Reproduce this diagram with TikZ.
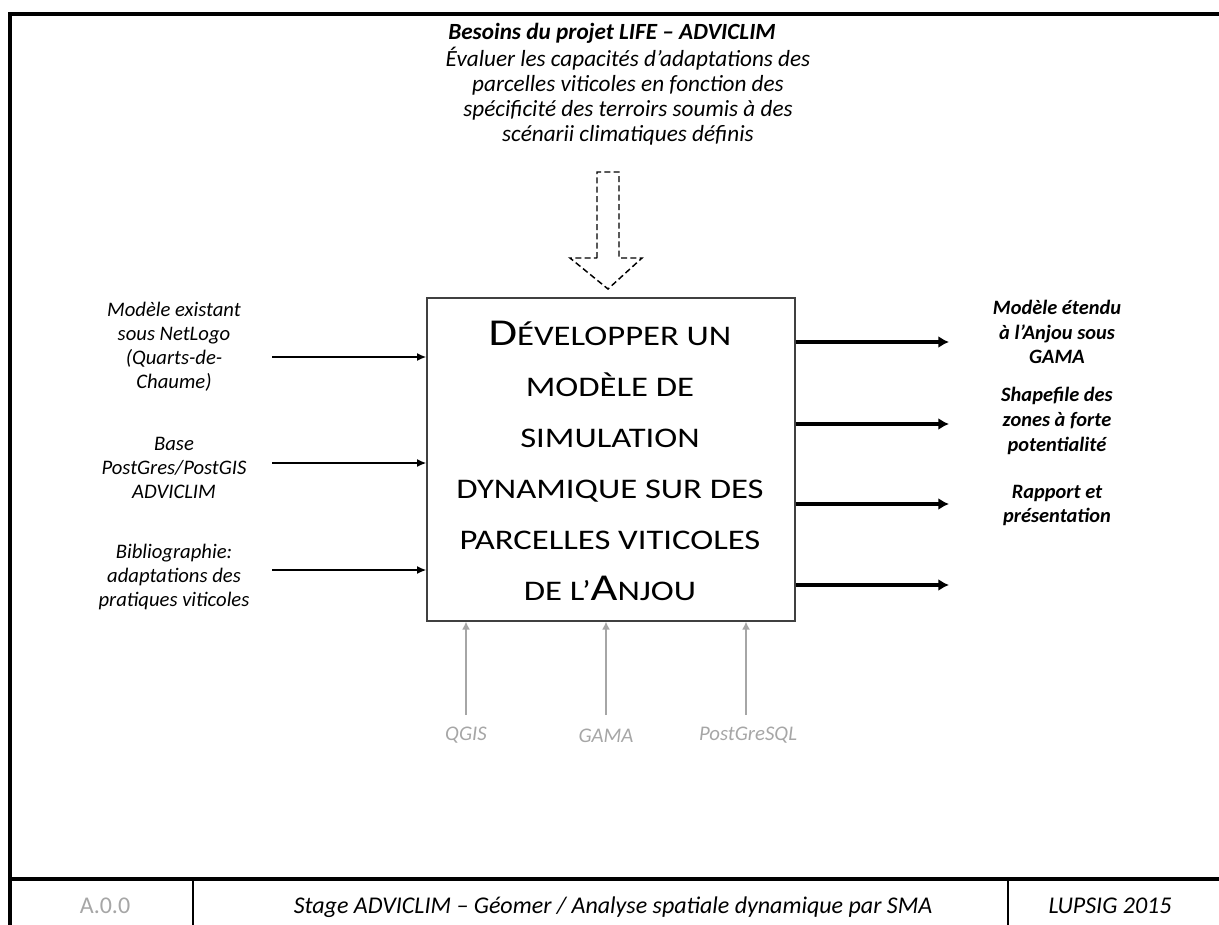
\documentclass[tikz,border=0pt]{standalone}
\usepackage{fontspec}
\setmainfont{Carlito}
\newfontfamily\boxfont[FakeStretch=1.22]{Carlito}
\usetikzlibrary{arrows.meta}
\definecolor{lgray}{HTML}{A6A6A6}
\definecolor{boxgray}{HTML}{404040}
\newcommand{\fsz}[2]{\fontsize{#1}{#2}\selectfont}
\newcommand{\bigcapletter}[1]{{\fontsize{28.5}{38.25}\selectfont #1}}
\tikzset{
  frameline/.style={line width=2.4pt, black},
  inarrow/.style={line width=1.5pt, -{Latex[length=7pt,width=6pt]}},
  outarrow/.style={line width=2.6pt, -{Latex[length=8pt,width=9pt]}},
  toolarrow/.style={line width=1.5pt, lgray, -{Latex[length=6pt,width=6pt]}},
  lbl/.style={align=center, font=\fsz{15.5}{18}\itshape, inner sep=0pt},
  outlbl/.style={align=center, font=\fsz{15.3}{18.5}\bfseries\itshape, inner sep=0pt},
  toollbl/.style={font=\fsz{15.6}{18}\itshape, text=lgray, inner sep=0pt, anchor=base},
  footlbl/.style={font=\fsz{18}{20}, inner sep=0pt, anchor=base},
  mainbox/.style={draw=boxgray, line width=0.8pt, minimum width=368*0.75pt, minimum height=323*0.75pt, inner sep=0pt, align=center},
}
\begin{document}
\begin{tikzpicture}[x=0.75pt,y=-0.75pt]
\useasboundingbox (0,0) rectangle (1219,924);
\begin{scope}
\clip (0,0) rectangle (1219,924);
% frame
\draw[frameline] (10,14) rectangle (1240,950);
\draw[frameline] (10,879) -- (1240,879);
\draw[line width=1.6pt] (193,879) -- (193,930);
\draw[line width=1.6pt] (1008,879) -- (1008,930);
\end{scope}
% footer
\node[footlbl, text=lgray] (ref) at (105,913) {A.0.0};
\node[footlbl, font=\fsz{18}{20}\itshape] (title) at (613,913) {Stage ADVICLIM – Géomer / Analyse spatiale dynamique par SMA};
\node[footlbl, font=\fsz{18}{20}\itshape] (org) at (1110,913) {LUPSIG 2015};
% main box
\node[mainbox] (box) at (611,459.5) {};
\node[align=center, inner sep=0pt, font=\boxfont\fsz{21.3}{38.25}] (boxtxt) at (610,461) {%
\bigcapletter{D}ÉVELOPPER UN\\
MODÈLE DE\\
SIMULATION\\
DYNAMIQUE SUR DES\\
PARCELLES VITICOLES\\
DE L’\bigcapletter{A}NJOU};
% top requirement
\node[align=center, inner sep=0pt, font=\fsz{17.4}{18.75}\bfseries\itshape] (needtitle) at (612,33) {Besoins du projet LIFE – ADVICLIM};
\node[align=center, inner sep=0pt, font=\fsz{17.4}{18.75}\itshape] (need) at (628,96) {%
Évaluer les capacités d’adaptations des\\
parcelles viticoles en fonction des\\
spécificité des terroirs soumis à des\\
scénarii climatiques définis};
\draw[dashed, dash pattern=on 4.5pt off 2.5pt, line width=1.1pt, line join=miter]
  (597,258) -- (597,172) -- (619,172) -- (619,258) -- (642,258) -- (608,289) -- (570,258) -- cycle;
% inputs
\node[lbl] (in1lbl) at (174,347) {Modèle existant\\sous NetLogo\\(Quarts-de-\\Chaume)};
\node[lbl] (in2lbl) at (174,468) {Base\\PostGres/PostGIS\\ADVICLIM};
\node[lbl] (in3lbl) at (174,577) {Bibliographie:\\adaptations des\\pratiques viticoles};
\coordinate (in1) at (272,357);
\coordinate (in2) at (272,463);
\coordinate (in3) at (272,570);
\draw[inarrow] (in1) -- (in1 -| box.west);
\draw[inarrow] (in2) -- (in2 -| box.west);
\draw[inarrow] (in3) -- (in3 -| box.west);
% outputs
\coordinate (out1) at (949,342);
\coordinate (out2) at (949,424);
\coordinate (out3) at (949,504);
\coordinate (out4) at (949,585);
\draw[outarrow] (out1 -| box.east) -- (out1);
\draw[outarrow] (out2 -| box.east) -- (out2);
\draw[outarrow] (out3 -| box.east) -- (out3);
\draw[outarrow] (out4 -| box.east) -- (out4);
\node[outlbl] (out1lbl) at (1057,332) {Modèle étendu\\à l’Anjou sous\\GAMA};
\node[outlbl] (out2lbl) at (1057,421) {Shapefile des\\zones à forte\\potentialité};
\node[outlbl] (out3lbl) at (1057,505.5) {Rapport et\\présentation};
% tools
\node[toollbl] (qgis) at (466,740) {QGIS};
\node[toollbl] (gama) at (606,742) {GAMA};
\node[toollbl] (pg) at (748,740) {PostGreSQL};
\coordinate (t1) at (466,715);
\coordinate (t2) at (606,715);
\coordinate (t3) at (746,715);
\draw[toolarrow] (t1) -- (t1 |- box.south);
\draw[toolarrow] (t2) -- (t2 |- box.south);
\draw[toolarrow] (t3) -- (t3 |- box.south);
\end{tikzpicture}
\end{document}
